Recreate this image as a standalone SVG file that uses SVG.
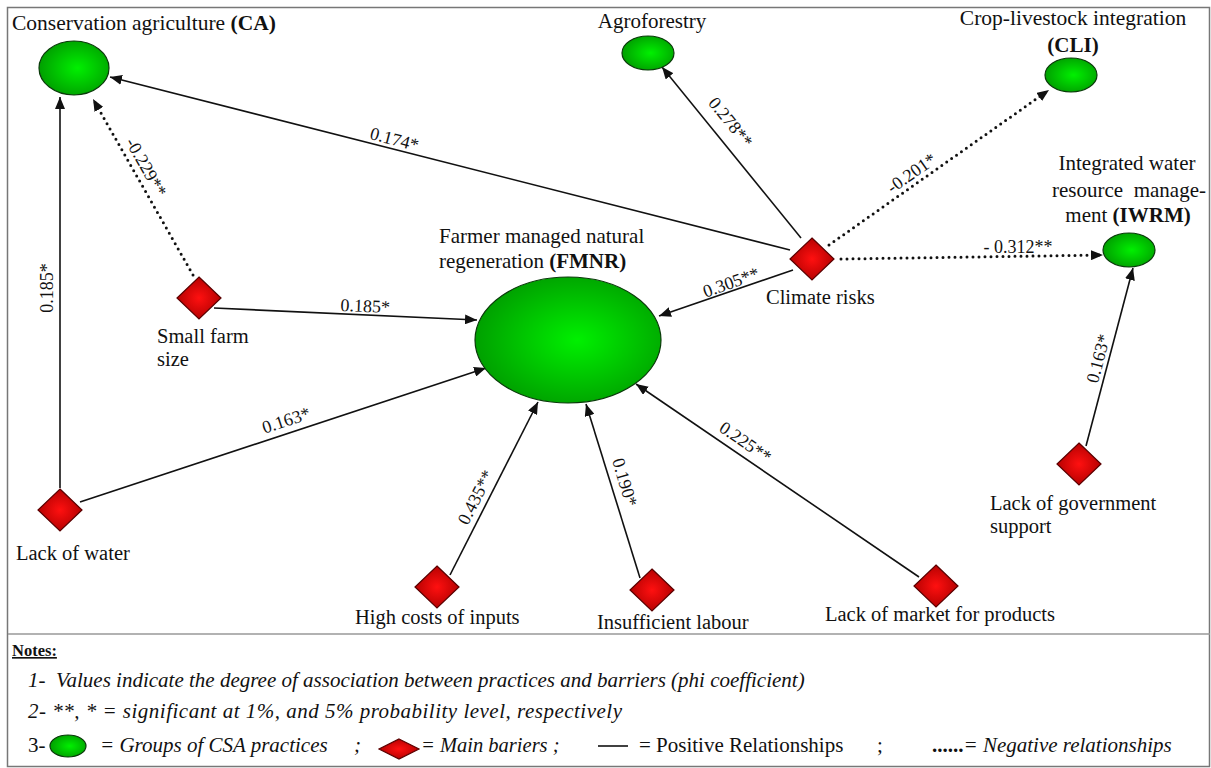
<svg xmlns="http://www.w3.org/2000/svg" width="1211" height="768" viewBox="0 0 1211 768" font-family="'Liberation Serif', 'Times New Roman', serif">
<style>
text{font-family:"Liberation Serif","Times New Roman",serif;fill:#111}
.nl{font-family:"Liberation Serif",serif;font-size:20.5px}
.el{font-family:"Liberation Serif",serif;font-size:18px}
.nt{font-family:"Liberation Serif",serif;font-size:21px;font-style:italic}
.rg{font-family:"Liberation Serif",serif;font-size:21px}
.b{font-weight:bold}
.pr{fill:url(#gG);stroke:#0a3a0a;stroke-width:1.2}
.br{fill:url(#gR);stroke:#5a0000;stroke-width:1.2}
.pos{stroke:#111;stroke-width:1.6;fill:none;marker-end:url(#ah)}
.neg{stroke:#111;stroke-width:3;fill:none;stroke-dasharray:0 6;stroke-linecap:round;marker-end:url(#ah)}
</style>
<defs>
<radialGradient id="gG" cx="0.55" cy="0.5" r="0.55">
<stop offset="0" stop-color="#00f000"/>
<stop offset="1" stop-color="#00a000"/>
</radialGradient>
<radialGradient id="gR" cx="0.5" cy="0.5" r="0.55">
<stop offset="0" stop-color="#ff1010"/>
<stop offset="1" stop-color="#b00000"/>
</radialGradient>
<marker id="ah" markerUnits="userSpaceOnUse" markerWidth="13" markerHeight="10" refX="12" refY="5" orient="auto">
<path d="M0,0 L12,5 L0,10 z" fill="#111"/>
</marker>
</defs>
<rect x="7.5" y="7.5" width="1202" height="759" fill="#fff" stroke="#777" stroke-width="1.5"/>
<line x1="8" y1="634" x2="1210" y2="634" stroke="#999" stroke-width="1.5"/>

<g id="connectors">
<path class="pos" d="M790,250 L110,77"/>
<path class="neg" d="M193,275 L93,99"/>
<path class="pos" d="M60,488 L60,97"/>
<path class="pos" d="M214,308 L477,320"/>
<path class="pos" d="M80,502 L486,368"/>
<path class="pos" d="M450,575 L538,402"/>
<path class="pos" d="M640,578 L586,404"/>
<path class="pos" d="M919,577 L636,384"/>
<path class="pos" d="M793,270 L659,316"/>
<path class="pos" d="M801,238 L662,67"/>
<path class="neg" d="M829,245 L1049,90"/>
<path class="neg" d="M841,259 L1103,255"/>
<path class="pos" d="M1086,446 L1133,268"/>
<text class="el" text-anchor="middle" transform="translate(393,145) rotate(14.5)">0.174*</text>
<text class="el" text-anchor="middle" transform="translate(141,170) rotate(60.4)">-0.229**</text>
<text class="el" text-anchor="middle" transform="translate(53,288) rotate(-90)">0.185*</text>
<text class="el" text-anchor="middle" transform="translate(365,312) rotate(2.4)">0.185*</text>
<text class="el" text-anchor="middle" transform="translate(288,426) rotate(-18.2)">0.163*</text>
<text class="el" text-anchor="middle" transform="translate(481,500) rotate(-63)">0.435**</text>
<text class="el" text-anchor="middle" transform="translate(619,484) rotate(73.5)">0.190*</text>
<text class="el" text-anchor="middle" transform="translate(742,447) rotate(34.6)">0.225**</text>
<text class="el" text-anchor="middle" transform="translate(733,288) rotate(-19.3)">0.305**</text>
<text class="el" text-anchor="middle" transform="translate(726,126) rotate(51)">0.278**</text>
<text class="el" text-anchor="middle" transform="translate(915,178) rotate(-35.2)">-0.201*</text>
<text class="el" text-anchor="middle" x="1018" y="253">- 0.312**</text>
<text class="el" text-anchor="middle" transform="translate(1104,360) rotate(-75.3)">0.163*</text>
</g>

<g id="ca">
<ellipse class="pr" cx="74" cy="68" rx="35" ry="27"/>
<text class="nl" x="12" y="30" style="font-size:21.5px">Conservation agriculture <tspan class="b">(CA)</tspan></text>
</g>
<g id="agroforestry">
<ellipse class="pr" cx="648" cy="53" rx="26" ry="17"/>
<text class="nl" x="652" y="28" text-anchor="middle" style="font-size:21px">Agroforestry</text>
</g>
<g id="cli">
<ellipse class="pr" cx="1071" cy="75" rx="26" ry="17"/>
<text class="nl" x="1073" y="25" text-anchor="middle" style="font-size:21.5px">Crop-livestock integration</text>
<text class="nl b" x="1073" y="52" text-anchor="middle" style="font-size:21px">(CLI)</text>
</g>
<g id="iwrm">
<ellipse class="pr" cx="1129" cy="250" rx="26" ry="17"/>
<text class="nl" x="1127" y="170" text-anchor="middle" style="font-size:21px">Integrated water</text>
<text class="nl" x="1129" y="197" text-anchor="middle" style="font-size:21px" xml:space="preserve">resource  manage-</text>
<text class="nl" x="1128" y="222" text-anchor="middle" style="font-size:21px">ment <tspan class="b">(IWRM)</tspan></text>
</g>
<g id="fmnr">
<ellipse class="pr" cx="568" cy="340" rx="93" ry="63"/>
<text class="nl" x="439" y="243" style="font-size:21px">Farmer managed natural</text>
<text class="nl" x="439" y="268" style="font-size:21px">regeneration <tspan class="b">(FMNR)</tspan></text>
</g>

<g id="small-farm">
<polygon class="br" points="199,277 221,298 199,319 177,298"/>
<text class="nl" x="157" y="343">Small farm</text>
<text class="nl" x="157" y="366">size</text>
</g>
<g id="lack-water">
<polygon class="br" points="60,489 82,510 60,531 38,510"/>
<text class="nl" x="16" y="560">Lack of water</text>
</g>
<g id="climate">
<polygon class="br" points="812,238 834,259 812,280 790,259"/>
<text class="nl" x="766" y="304">Climate risks</text>
</g>
<g id="high-costs">
<polygon class="br" points="437,566 459,587 437,608 415,587"/>
<text class="nl" x="355" y="624">High costs of inputs</text>
</g>
<g id="labour">
<polygon class="br" points="652,569 674,590 652,611 630,590"/>
<text class="nl" x="597" y="629">Insufficient labour</text>
</g>
<g id="market">
<polygon class="br" points="936,565 958,586 936,607 914,586"/>
<text class="nl" x="825" y="621">Lack of market for products</text>
</g>
<g id="government">
<polygon class="br" points="1079,443 1101,464 1079,485 1057,464"/>
<text class="nl" x="990" y="510">Lack of government</text>
<text class="nl" x="990" y="533">support</text>
</g>

<g id="notes">
<text x="12" y="656" class="b" style="font-size:16.5px;text-decoration:underline">Notes:</text>
<text class="nt" y="687"><tspan x="28">1-</tspan><tspan x="56">Values indicate the degree of association between practices and barriers (phi coefficient)</tspan></text>
<text class="nt" x="28" y="718" textLength="594" lengthAdjust="spacing">2- **, * = significant at 1%, and 5% probability level, respectively</text>
<text class="rg" x="28" y="752">3-</text>
<ellipse class="pr" cx="68" cy="746" rx="18" ry="11"/>
<text class="nt" x="100" y="752">= Groups of CSA practices</text>
<text class="nt" x="354" y="752">;</text>
<polygon class="br" points="399,739 419,749 399,759 379,749"/>
<text class="nt" x="421" y="752" style="font-size:20.5px">= Main bariers ;</text>
<line x1="598" y1="746" x2="628" y2="746" stroke="#111" stroke-width="1.6"/>
<text class="rg" x="639" y="752">= Positive Relationships</text>
<text class="rg" x="877" y="752">;</text>
<text class="rg" x="932" y="752"><tspan class="b">......</tspan><tspan font-style="italic">= Negative relationships</tspan></text>
</g>
</svg>
